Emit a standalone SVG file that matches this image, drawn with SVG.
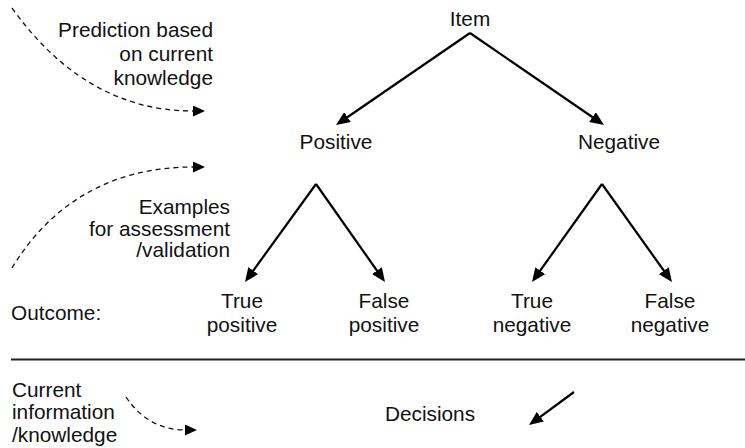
<svg xmlns="http://www.w3.org/2000/svg" width="745" height="448" viewBox="0 0 745 448">
<style>
text{font-family:"Liberation Sans",Arial,Helvetica,sans-serif;font-size:20.8px;fill:#111}
.m{text-anchor:middle}.e{text-anchor:end}
.solid{fill:none;stroke:#000;stroke-width:2.2}
.dash{fill:none;stroke:#111;stroke-width:1.3;stroke-dasharray:5 4}
</style>
<defs>
<marker id="ah" markerUnits="userSpaceOnUse" markerWidth="14" markerHeight="12" refX="6" refY="6" orient="auto"><path d="M0,0 L14,6 L0,12 z" fill="#000"/></marker>
<marker id="dh" markerUnits="userSpaceOnUse" markerWidth="12" markerHeight="11" refX="0" refY="5.5" orient="auto"><path d="M0,0 L12,5.5 L0,11 z" fill="#000"/></marker>
</defs>
<rect width="745" height="448" fill="#fff"/>
<g id="connectors">
<path class="solid" d="M470,33 L342.6,120.5" marker-end="url(#ah)"/>
<path class="solid" d="M470,33 L597.4,120.5" marker-end="url(#ah)"/>
<path class="solid" d="M316,184 L249.7,275.5" marker-end="url(#ah)"/>
<path class="solid" d="M316,184 L380.4,275.5" marker-end="url(#ah)"/>
<path class="solid" d="M602,184 L536.7,275.5" marker-end="url(#ah)"/>
<path class="solid" d="M602,184 L667.3,275.5" marker-end="url(#ah)"/>
<path class="solid" d="M574,392 L535.5,420.3" marker-end="url(#ah)"/>
<path class="dash" d="M12,8 C60,75 120,111 193,111" marker-end="url(#dh)"/>
<path class="dash" d="M12,268 C50,205 110,167 193,167" marker-end="url(#dh)"/>
<path class="dash" d="M126,397 C140,418 160,430 185,430" marker-end="url(#dh)"/>
<line x1="11" y1="359.5" x2="745" y2="359.5" stroke="#222" stroke-width="2"/>
</g>
<g id="item"><text class="m" x="470" y="26">Item</text></g>
<g id="positive"><text class="m" x="336" y="149">Positive</text></g>
<g id="negative"><text class="m" x="619" y="149">Negative</text></g>
<g id="prediction"><text class="e" x="213" y="37">Prediction based</text><text class="e" x="213" y="61">on current</text><text class="e" x="213" y="85">knowledge</text></g>
<g id="examples"><text class="e" x="230" y="214">Examples</text><text class="e" x="230" y="235.5">for assessment</text><text class="e" x="230" y="257">/validation</text></g>
<g id="outcome"><text x="11" y="320">Outcome:</text></g>
<g id="tp"><text class="m" x="242" y="308">True</text><text class="m" x="242" y="332">positive</text></g>
<g id="fp"><text class="m" x="384" y="308">False</text><text class="m" x="384" y="332">positive</text></g>
<g id="tn"><text class="m" x="532" y="308">True</text><text class="m" x="532" y="332">negative</text></g>
<g id="fn"><text class="m" x="670" y="308">False</text><text class="m" x="670" y="332">negative</text></g>
<g id="current"><text x="12" y="396.5">Current</text><text x="12" y="419">information</text><text x="12" y="441.5">/knowledge</text></g>
<g id="decisions"><text class="m" x="430" y="420.5">Decisions</text></g>
</svg>
